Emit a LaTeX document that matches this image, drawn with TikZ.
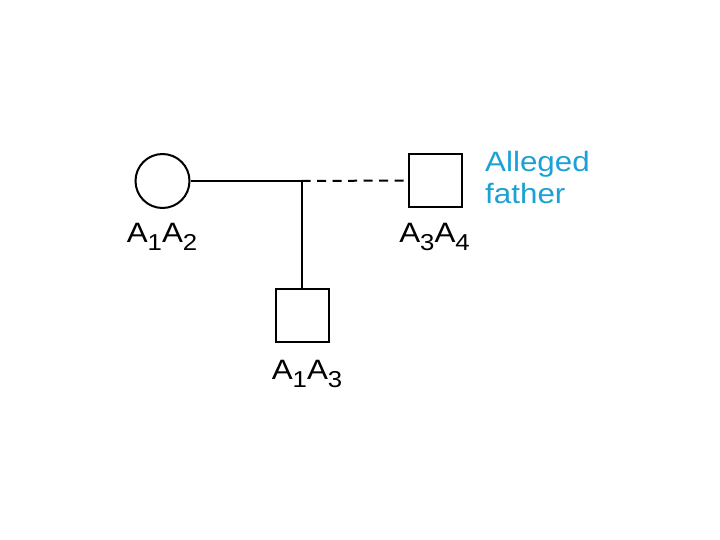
\documentclass[tikz,border=0pt]{standalone}
\usepackage{fontspec}
\setmainfont{Liberation Sans}
\definecolor{alblue}{RGB}{27,161,213}
\newcommand{\mysub}[1]{\raisebox{-8.5pt}{\fontsize{23}{23}\selectfont #1}}
\newcommand{\wide}[1]{\scalebox{1.12}[1]{#1}}
\begin{document}
\begin{tikzpicture}[x=1pt,y=-1pt,
  person/.style={draw=black,line width=2pt,fill=white,inner sep=0pt},
  malebox/.style={person,rectangle,minimum width=53pt,minimum height=53pt},
  femalecirc/.style={person,circle,minimum size=54pt},
  geno/.style={font=\fontsize{28}{28}\selectfont,anchor=base,inner sep=0pt},
  conn/.style={line width=2pt},
  dashconn/.style={conn,dash pattern=on 9pt off 6.5pt}]
\useasboundingbox (0,0) rectangle (720,540);
\node[femalecirc] (mother) at (162.5,181) {};
\node[malebox] (father) at (435,180.5) {};
\node[malebox] (child) at (302.5,315.5) {};
\coordinate (junc) at (301.5,181);
\draw[conn] (mother.east) -- (junc);
\draw[dashconn] (junc) -- (father.west);
\draw[conn] (junc) -- (child.north -| junc);
\node[geno] (gm) at (162,242) {\wide{A\mysub{1}A\mysub{2}}};
\node[geno] (gf) at (434.5,242) {\wide{A\mysub{3}A\mysub{4}}};
\node[geno] (gc) at (307,379) {\wide{A\mysub{1}A\mysub{3}}};
\node[anchor=base west,inner sep=0pt,text=alblue,font=\fontsize{28}{32}\selectfont,align=left] (lab) at (485,204) {\wide{Alleged}\\\wide{father}};
\end{tikzpicture}
\end{document}
